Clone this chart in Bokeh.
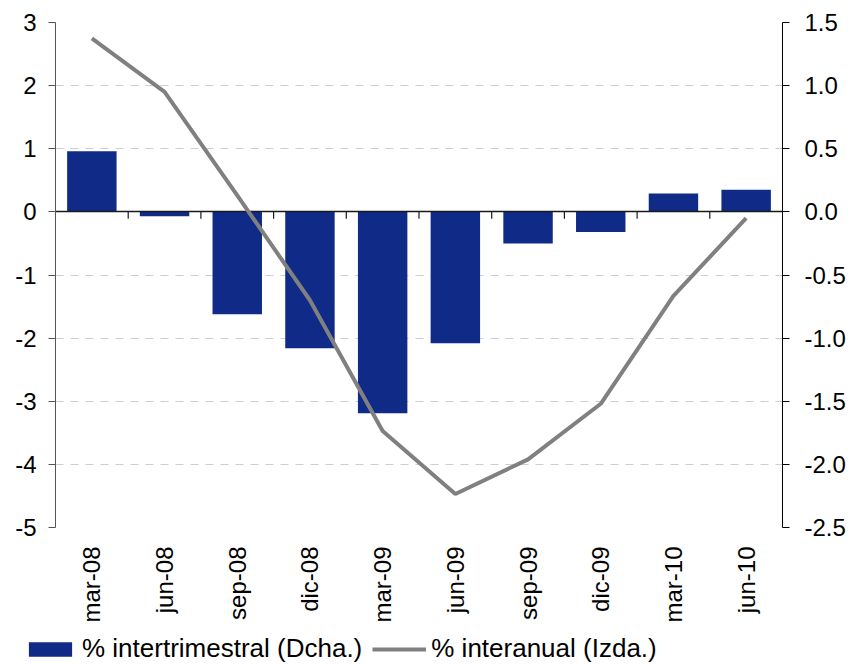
import math
from bokeh.plotting import figure
from bokeh.layouts import column
from bokeh.models import Range1d, LinearAxis, FixedTicker, Legend, LegendItem
from bokeh.embed import file_html
from bokeh.resources import INLINE

# ---- data ----
categories = ["mar-08", "jun-08", "sep-08", "dic-08", "mar-09",
              "jun-09", "sep-09", "dic-09", "mar-10", "jun-10"]
intertrimestral = [0.48, -0.035, -0.81, -1.08, -1.595, -1.04, -0.25, -0.16, 0.145, 0.175]  # right axis
interanual = [2.75, 1.90, 0.26, -1.40, -3.47, -4.47, -3.92, -3.04, -1.33, -0.10]            # left axis
left_ticks = [-5, -4, -3, -2, -1, 0, 1, 2, 3]
right_ticks = [-2.5, -2.0, -1.5, -1.0, -0.5, 0.0, 0.5, 1.0, 1.5]
series_labels = ["% intertrimestral (Dcha.)", "% interanual (Izda.)"]

FONT = "Liberation Sans"
BAR_COLOR = "#0F2A87"
LINE_COLOR = "#808080"

n = len(categories)
xs = [i + 0.5 for i in range(n)]
bounds = [i + 1 for i in range(n - 1)]

p = figure(width=850, height=625,
           x_range=Range1d(0, n), y_range=Range1d(left_ticks[0], left_ticks[-1]),
           output_backend="svg", toolbar_location=None,
           min_border_left=55, min_border_right=68, min_border_top=22, min_border_bottom=98)
p.outline_line_color = None
p.background_fill_color = "white"
p.border_fill_color = "white"
p.extra_y_ranges = {"right": Range1d(right_ticks[0], right_ticks[-1])}

# x axis (category labels)
xa = p.xaxis[0]
xa.ticker = FixedTicker(ticks=xs)
xa.major_label_overrides = {x: c for x, c in zip(xs, categories)}
xa.axis_line_color = None
xa.major_tick_line_color = None
xa.minor_tick_line_color = None
xa.major_tick_out = 0
xa.major_tick_in = 0
xa.major_label_standoff = 19
xa.major_label_orientation = math.pi / 2
xa.major_label_text_font = FONT
xa.major_label_text_font_size = "24px"
xa.major_label_text_color = "black"
p.xgrid.visible = False

# left axis
ya = p.yaxis[0]
ya.ticker = FixedTicker(ticks=left_ticks)
ya.major_label_overrides = {t: str(t) for t in left_ticks}
ya.axis_line_color = "#555555"
ya.major_tick_line_color = "#555555"
ya.minor_tick_line_color = None
ya.major_tick_out = 7
ya.major_tick_in = 0
ya.major_label_standoff = 12
ya.major_label_text_font = FONT
ya.major_label_text_font_size = "24px"
ya.major_label_text_color = "black"

# right axis
def _key(t):
    return int(t) if float(t).is_integer() else t

ra = LinearAxis(y_range_name="right", ticker=FixedTicker(ticks=right_ticks))
ra.major_label_overrides = {_key(t): f"{t:.1f}" for t in right_ticks}
ra.axis_line_color = "black"
ra.major_tick_line_color = "black"
ra.minor_tick_line_color = None
ra.major_tick_out = 7
ra.major_tick_in = 0
ra.major_label_standoff = 15
ra.major_label_text_font = FONT
ra.major_label_text_font_size = "24px"
ra.major_label_text_color = "black"
p.add_layout(ra, "right")

# grid
p.ygrid.ticker = FixedTicker(ticks=left_ticks)
p.ygrid.grid_line_color = "#CCCCDD"
p.ygrid.grid_line_dash = "8 7"
p.ygrid.grid_line_width = 1

# bars (right axis)
bars = p.vbar(x=xs, top=intertrimestral, bottom=0, width=0.68,
              y_range_name="right", fill_color=BAR_COLOR, line_color=None)

# zero line and category boundary ticks
p.hspan(y=[0], line_color="#1a1a1a", line_width=1.5)
p.segment(x0=bounds, y0=[0] * len(bounds), x1=bounds, y1=[-0.11] * len(bounds),
          line_color="#1a1a1a", line_width=1.2)

# line (left axis)
line = p.line(xs, interanual, line_color=LINE_COLOR, line_width=4)

# ---- legend strip below the chart ----
lg = figure(width=850, height=40, x_range=Range1d(0, n), y_range=Range1d(0, 1),
            output_backend="svg", toolbar_location=None,
            min_border_left=0, min_border_right=0, min_border_top=0, min_border_bottom=0,
            x_axis_type=None, y_axis_type=None)
for fig in (p, lg):
    try:
        fig.frame_align = False
    except Exception:
        pass
lg.outline_line_color = None
lg.grid.visible = False
lg.background_fill_color = "white"
lg.border_fill_color = "white"
# same series, hidden: only their legend swatches are shown
lg_bar = lg.vbar(x=xs, top=intertrimestral, bottom=0, width=0.68,
                 fill_color=BAR_COLOR, line_color=None, visible=False)
lg_line = lg.line(xs, interanual, line_color=LINE_COLOR, line_width=4, visible=False)

legend = Legend(items=[LegendItem(label=series_labels[0], renderers=[lg_bar]),
                       LegendItem(label=series_labels[1], renderers=[lg_line])],
                orientation="horizontal", location=(23, 1))
legend.label_text_font = FONT
legend.label_text_font_size = "26px"
legend.label_text_color = "black"
legend.border_line_color = None
legend.background_fill_alpha = 0
legend.inactive_fill_alpha = 0
legend.padding = 0
legend.margin = 0
legend.spacing = 10
legend.label_standoff = 5
legend.glyph_width = 54
legend.glyph_height = 18
lg.add_layout(legend)

layout = column(p, lg, spacing=0)
open("out.html", "w").write(file_html(layout, INLINE))
